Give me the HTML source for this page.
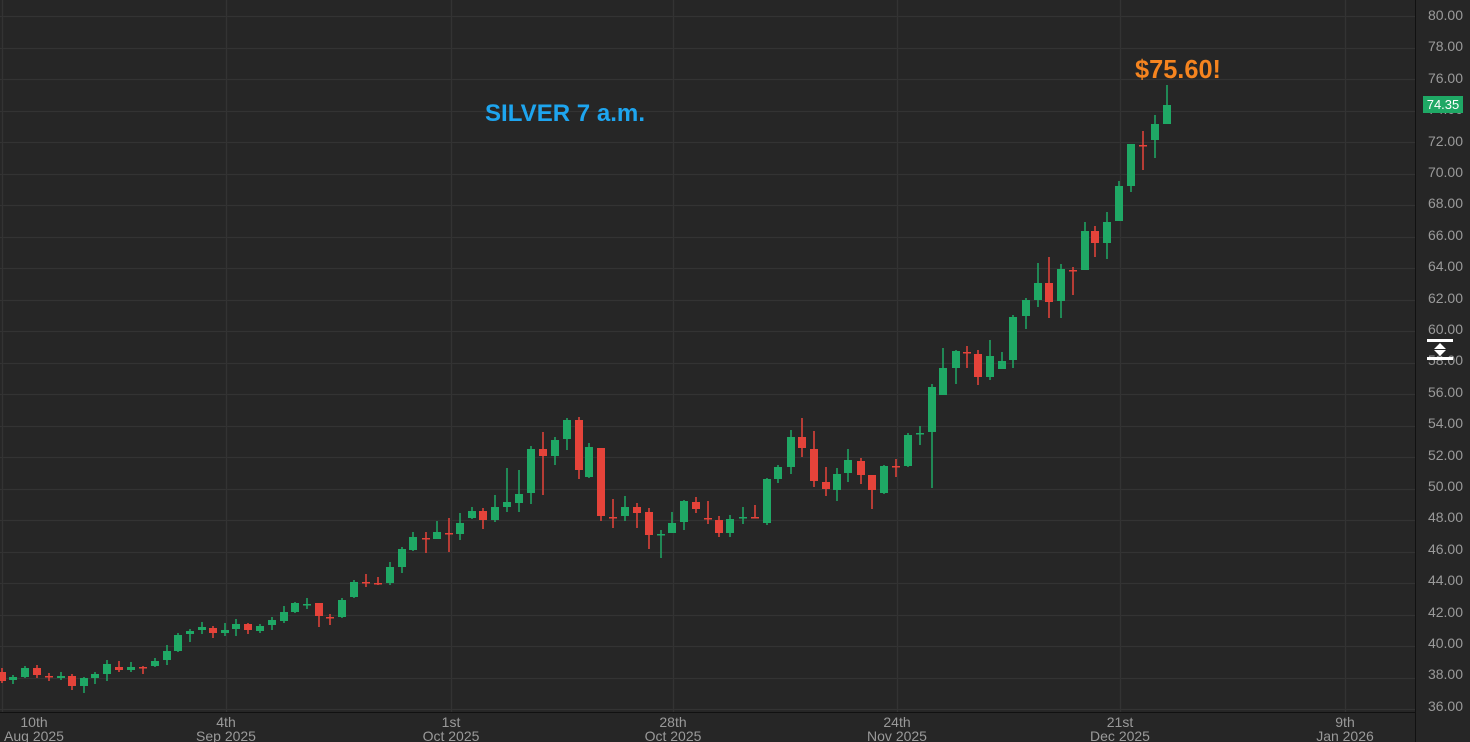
<!DOCTYPE html>
<html><head><meta charset="utf-8"><style>
html,body{margin:0;padding:0;background:#262626;}
svg{display:block;font-family:"Liberation Sans",sans-serif;}
</style></head><body>
<svg id="c" width="1470" height="742" viewBox="0 0 1470 742" xmlns="http://www.w3.org/2000/svg">
<rect width="1470" height="742" fill="#262626"/>
<g id="grid"></g>
<g id="candles"></g>
<line x1="1415.5" y1="0" x2="1415.5" y2="742" stroke="#111" stroke-width="1"/>
<line x1="0" y1="712.5" x2="1415" y2="712.5" stroke="#111" stroke-width="1"/>
<g id="ylab" fill="#9a9a9a" font-size="14" text-anchor="end"></g>
<g fill="#9a9a9a" font-size="14" text-anchor="middle">
<text x="34" y="727">10th</text><text x="34" y="741">Aug 2025</text>
<text x="226" y="727">4th</text><text x="226" y="741">Sep 2025</text>
<text x="451" y="727">1st</text><text x="451" y="741">Oct 2025</text>
<text x="673" y="727">28th</text><text x="673" y="741">Oct 2025</text>
<text x="897" y="727">24th</text><text x="897" y="741">Nov 2025</text>
<text x="1120" y="727">21st</text><text x="1120" y="741">Dec 2025</text>
<text x="1345" y="727">9th</text><text x="1345" y="741">Jan 2026</text>
</g>
<rect x="1423" y="96" width="40" height="17" fill="#1fa865"/>
<text x="1443" y="109" fill="#fff" font-size="13" text-anchor="middle">74.35</text>
<rect x="1427" y="339" width="26" height="3" fill="#fff"/>
<rect x="1427" y="357" width="26" height="3" fill="#fff"/>
<path d="M1440 343 L1446 349 L1434 349 Z M1440 356 L1446 350 L1434 350 Z" fill="#fff"/>
<text x="485" y="121" fill="#1ea5ef" font-size="24" font-weight="bold" textLength="160" lengthAdjust="spacingAndGlyphs">SILVER 7 a.m.</text>
<text x="1135" y="78" fill="#f5841f" font-size="26" font-weight="bold" textLength="86" lengthAdjust="spacingAndGlyphs">$75.60!</text>
</svg>
<script>
var NS="http://www.w3.org/2000/svg";
function el(p,t,a){var e=document.createElementNS(NS,t);for(var k in a)e.setAttribute(k,a[k]);p.appendChild(e);return e;}
var g=document.getElementById('grid'),yl=document.getElementById('ylab');
for(var p=36;p<=80;p+=2){var y=Math.round(16+(80-p)*15.75)+0.5;
el(g,'line',{x1:0,y1:y,x2:1415,y2:y,stroke:'#333',"stroke-width":1.3});
var t=el(yl,'text',{x:1463,y:Math.round(15+(80-p)*15.7)+5});t.textContent=p.toFixed(2);}
[2,226,451,673,897,1120,1345].forEach(function(x){el(g,'line',{x1:x+0.5,y1:0,x2:x+0.5,y2:712,stroke:'#333',"stroke-width":1.3});});
var G='#1fa865',R='#e5433a';
var C=[
[2,672,681,668,683,R],[13,677,680,675,684,G],[25,668,677,666,678,G],[37,668,675,665,678,R],[49,676,677,673,681,R],
[61,676,678,672,680,G],[72,676,686,674,690,R],[84,678,686,677,693,G],[95,674,678,672,684,G],[107,664,674,660,681,G],
[119,667,670,661,672,R],[131,667,670,662,672,G],[143,667,668,666,674,R],[155,661,666,658,667,G],[167,651,660,645,665,G],
[178,635,651,633,652,G],[190,631,634,629,642,G],[202,627,630,622,634,G],[213,628,633,626,638,R],[225,630,633,623,636,G],
[236,624,629,619,636,G],[248,624,630,623,634,R],[260,626,631,624,633,G],[272,620,625,617,630,G],[284,612,621,606,623,G],
[295,603,612,602,613,G],[307,604,605,598,609,G],[319,603,616,603,627,R],[330,617,618,614,625,R],[342,600,617,598,618,G],
[354,582,597,580,598,G],[366,582,583,574,587,R],[378,583,584,577,585,R],[390,567,583,562,585,G],[402,549,567,547,573,G],
[413,537,550,532,551,G],[426,538,539,532,553,R],[437,532,539,521,539,G],[449,533,534,518,552,R],[460,523,534,513,540,G],
[472,511,518,507,519,G],[483,511,520,508,529,R],[495,507,520,495,522,G],[507,502,507,468,512,G],[519,494,503,470,512,G],
[531,449,493,446,504,G],[543,449,456,432,495,R],[555,440,456,437,465,G],[567,420,439,418,450,G],[579,420,470,417,479,R],
[589,447,477,443,478,G],[601,448,516,448,521,R],[613,517,518,499,528,R],[625,507,516,496,521,G],[637,507,513,503,528,R],
[649,512,535,508,549,R],[661,534,535,530,558,G],[672,523,533,512,533,G],[684,501,522,500,530,G],[696,502,509,497,513,R],
[708,518,519,501,524,R],[719,520,533,516,537,R],[730,519,533,515,537,G],[743,517,518,507,524,G],[755,517,518,505,518,R],
[767,479,523,478,525,G],[778,467,479,465,483,G],[791,437,467,430,474,G],[802,437,448,418,457,R],[814,449,481,431,487,R],
[826,482,489,467,496,R],[837,474,490,468,501,G],[848,460,473,449,482,G],[861,461,475,458,484,R],[872,475,490,475,509,R],
[884,466,493,465,494,G],[896,466,467,459,477,R],[908,435,466,433,467,G],[920,433,434,426,445,G],[932,387,432,384,488,G],
[943,368,395,348,395,G],[956,351,368,350,384,G],[967,352,353,346,368,R],[978,354,377,350,385,R],[990,356,377,340,380,G],
[1002,361,369,352,369,G],[1013,317,360,315,368,G],[1026,300,316,298,329,G],[1038,283,300,263,307,G],[1049,283,302,257,318,R],
[1061,269,301,264,318,G],[1073,270,271,267,295,R],[1085,231,270,222,270,G],[1095,231,243,226,257,R],[1107,222,243,212,259,G],
[1119,186,221,181,221,G],[1131,144,186,144,192,G],[1143,145,146,131,170,R],[1155,124,140,115,158,G],[1167,105,124,85,124,G]
];
var cg=document.getElementById('candles');
C.forEach(function(c){
el(cg,'rect',{x:c[0]-0.75,y:c[3],width:1.5,height:c[4]-c[3],fill:c[5]});
var h=Math.max(c[2]-c[1],1.5);
el(cg,'rect',{x:c[0]-4,y:c[1],width:8,height:h,fill:c[5]});
});
</script>
</body></html>
